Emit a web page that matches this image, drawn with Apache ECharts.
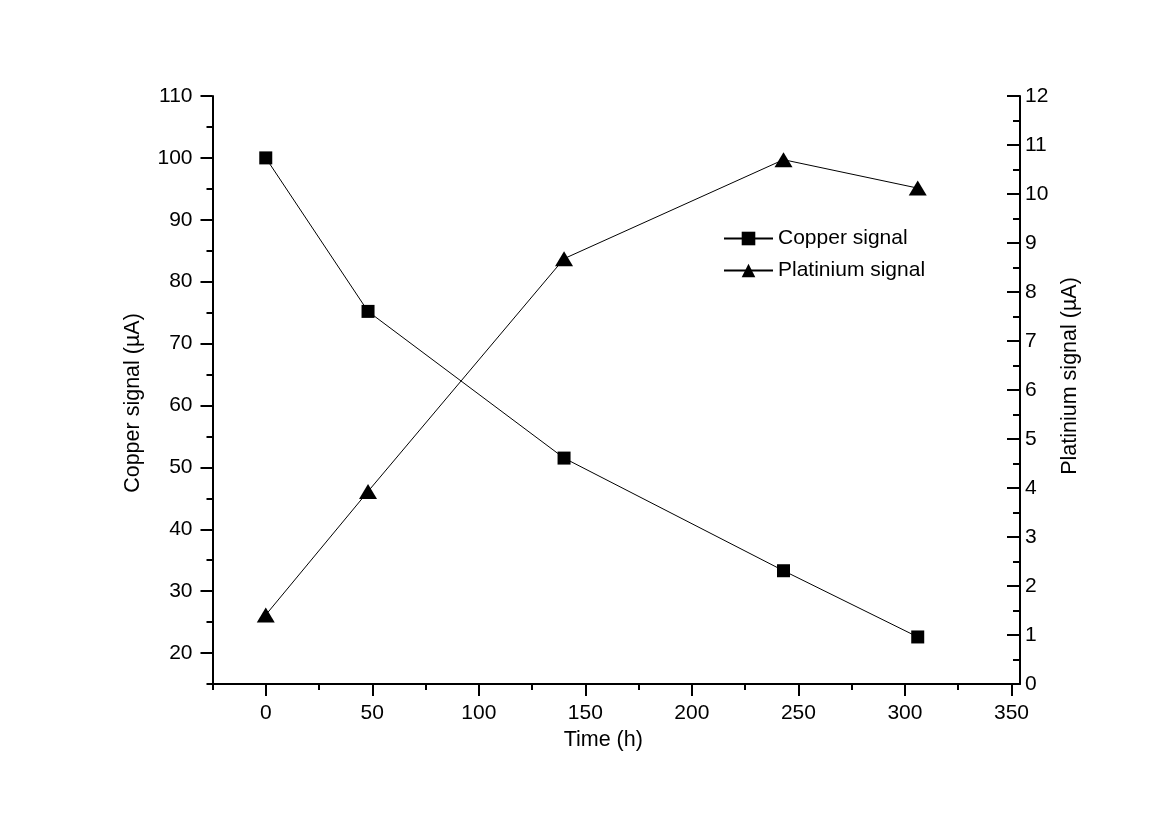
<!DOCTYPE html>
<html><head><meta charset="utf-8">
<script src="https://cdn.jsdelivr.net/npm/echarts@6/dist/echarts.min.js"></script>
<style>html,body{margin:0;padding:0;background:#fff}#c{width:1159px;height:816px}</style>
</head><body><div id="c"></div>
<script>
const timeCopper = [0, 48, 140, 243, 306];
const copperSignal = [100, 75.2, 51.5, 33.3, 22.6];
const timePlatinum = [0, 48, 140, 243, 306];
const platinumSignal = [1.41, 3.93, 8.68, 10.7, 10.12];
const xMajorTicks = [0, 50, 100, 150, 200, 250, 300, 350];
const xMinorTicks = [-25, 25, 75, 125, 175, 225, 275, 325];
const yLeftMajorTicks = [20, 30, 40, 50, 60, 70, 80, 90, 100, 110];
const yLeftMinorTicks = [15, 25, 35, 45, 55, 65, 75, 85, 95, 105];
const seriesNames = ['Copper signal', 'Platinium signal'];

const FONT = 'Liberation Sans, Arial, sans-serif';
const black = '#000';
const TICK_FS = 21, TITLE_FS = 21.5;
const chart = echarts.init(document.getElementById('c'), null, {renderer: 'canvas'});
const axisLine = {show: true, onZero: false, lineStyle: {color: black, width: 2}};
const noLine = {show: false, onZero: false};

chart.setOption({
  animation: false,
  backgroundColor: '#fff',
  textStyle: {fontFamily: FONT, color: black},
  grid: {left: 212.5, right: 139, top: 96, bottom: 132, containLabel: false},
  legend: {
    orient: 'vertical', left: 718, top: 223, itemWidth: 49, itemHeight: 17, itemGap: 11,
    textStyle: {fontSize: TICK_FS, color: black, fontFamily: FONT},
    data: seriesNames
  },
  xAxis: [
    {
      type: 'value', position: 'bottom', min: -25, max: 354,
      name: 'Time (h)', nameLocation: 'middle', nameGap: 40,
      nameTextStyle: {fontSize: TITLE_FS, color: black, fontFamily: FONT, padding: [0, 26, 0, 0]},
      axisLine: axisLine,
      axisTick: {show: true, customValues: xMajorTicks, length: 12, lineStyle: {color: black, width: 2}},
      axisLabel: {customValues: xMajorTicks, fontSize: TICK_FS, color: black, margin: 19, fontFamily: FONT},
      splitLine: {show: false}
    },
    {
      type: 'value', position: 'bottom', min: -25, max: 354,
      axisLine: noLine,
      axisTick: {show: true, customValues: xMinorTicks, length: 6, lineStyle: {color: black, width: 2}},
      axisLabel: {show: false},
      splitLine: {show: false}
    }
  ],
  yAxis: [
    {
      type: 'value', position: 'left', min: 15, max: 110,
      name: 'Copper signal (\u00b5A)', nameLocation: 'middle', nameGap: 68, nameRotate: 90,
      nameTextStyle: {fontSize: TITLE_FS, color: black, fontFamily: FONT, padding: [0, 26, 0, 0]},
      axisLine: axisLine,
      axisTick: {show: true, customValues: yLeftMajorTicks, length: 12, lineStyle: {color: black, width: 2}},
      axisLabel: {customValues: yLeftMajorTicks, fontSize: TICK_FS, color: black, margin: 20, fontFamily: FONT},
      splitLine: {show: false}
    },
    {
      type: 'value', position: 'right', min: 0, max: 12, interval: 1,
      name: 'Platinium signal (\u00b5A)', nameLocation: 'middle', nameGap: 38, nameRotate: 90,
      nameTextStyle: {fontSize: TITLE_FS, color: black, fontFamily: FONT, padding: [0, 0, 0, 28]},
      axisLine: axisLine,
      axisTick: {show: true, inside: true, length: 13, lineStyle: {color: black, width: 2}},
      minorTick: {show: true, splitNumber: 2, length: 7, lineStyle: {color: black, width: 2}},
      axisLabel: {fontSize: TICK_FS, color: black, margin: 5, fontFamily: FONT},
      splitLine: {show: false},
      minorSplitLine: {show: false}
    },
    {
      type: 'value', position: 'left', min: 15, max: 110,
      axisLine: noLine,
      axisTick: {show: true, customValues: yLeftMinorTicks, length: 6, lineStyle: {color: black, width: 2}},
      axisLabel: {show: false},
      splitLine: {show: false}
    }
  ],
  series: [
    {
      name: seriesNames[0], type: 'line', xAxisIndex: 0, yAxisIndex: 0,
      data: timeCopper.map((t, i) => [t, copperSignal[i]]),
      symbol: 'rect', symbolSize: 13,
      itemStyle: {color: black},
      lineStyle: {color: black, width: 1}
    },
    {
      name: seriesNames[1], type: 'line', xAxisIndex: 0, yAxisIndex: 1,
      data: timePlatinum.map((t, i) => [t, platinumSignal[i]]),
      symbol: 'triangle', symbolSize: [18, 15],
      itemStyle: {color: black},
      lineStyle: {color: black, width: 1}
    }
  ]
});
</script></body></html>
